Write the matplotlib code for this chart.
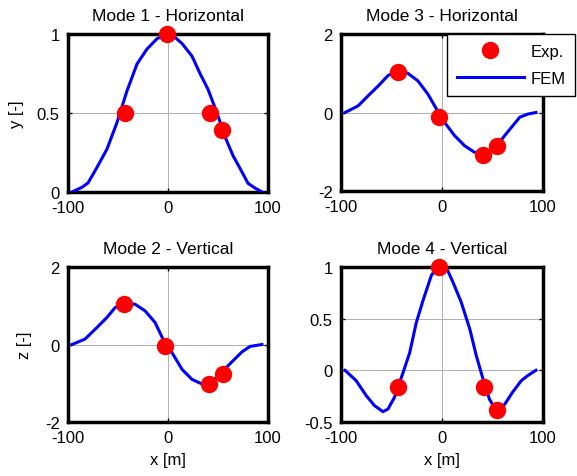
import matplotlib
matplotlib.use("Agg")
import matplotlib.pyplot as plt
from matplotlib.lines import Line2D

plt.rcParams["font.family"] = ["Liberation Sans", "DejaVu Sans"]
plt.rcParams["font.size"] = 12

# measured mode shapes (Exp.) and FEM curves
exp_x1 = [-43, -1, 42, 54]
exp_y1 = [0.5, 1.0, 0.5, 0.39]
fem_x1 = [-96, -86, -80, -71, -61, -51, -41, -31, -21, -11, -1, 5, 14, 24, 32,
          40, 49, 57, 65, 72, 80, 87, 94]
fem_y1 = [0.0, 0.03, 0.057, 0.156, 0.272, 0.44, 0.64, 0.81, 0.905, 0.97, 1.0,
          0.99, 0.94, 0.86, 0.75, 0.65, 0.5, 0.35, 0.23, 0.15, 0.055, 0.025, 0.0]

exp_x3 = [-43.5, -3, 40.5, 54]
exp_y3 = [1.03, -0.12, -1.08, -0.86]
fem_x3 = [-96, -83, -73, -63, -53.5, -43.5, -34, -24, -14, -5.5, 2.5, 12.5, 22.5,
          32, 42, 52, 62, 70, 77, 85, 93]
fem_y3 = [0.0, 0.17, 0.43, 0.68, 0.94, 1.07, 1.0, 0.81, 0.47, 0.09, -0.25, -0.59,
          -0.85, -1.01, -1.06, -0.93, -0.59, -0.34, -0.12, -0.04, 0.0]

exp_x2 = [-44, -3, 41, 54.5]
exp_y2 = [1.04, -0.05, -1.02, -0.75]
fem_x2 = [-96, -83, -71, -61, -53, -43, -33, -23, -13, -5, 4, 14, 24, 34, 41,
          55, 65, 74, 82, 94]
fem_y2 = [0.0, 0.14, 0.44, 0.70, 0.95, 1.08, 1.04, 0.87, 0.57, 0.14, -0.21, -0.64,
          -0.9, -1.02, -1.05, -0.68, -0.42, -0.19, -0.05, 0.0]

exp_x4 = [-43.5, -3, 41.5, 54]
exp_y4 = [-0.165, 1.0, -0.165, -0.385]
fem_x4 = [-96, -85, -75, -67, -58.5, -53.5, -47, -38.5, -32, -25.5, -19, -10.5,
          -4, 4, 11, 19, 27.5, 34, 40.5, 47, 54, 62, 70, 78.5, 85, 93]
fem_y4 = [0.0, -0.10, -0.245, -0.34, -0.40, -0.375, -0.26, -0.02, 0.17, 0.46,
          0.67, 0.92, 1.0, 1.0, 0.85, 0.66, 0.40, 0.14, -0.08, -0.28, -0.395,
          -0.33, -0.21, -0.10, -0.05, 0.0]

x_ticks = [-100, 0, 100]
x_tick_labels = ["-100", "0", "100"]

panels = [
    ("Mode 1 - Horizontal", exp_x1, exp_y1, fem_x1, fem_y1, (0, 1), [0, 0.5, 1], ["0", "0.5", "1"], "y [-]", ""),
    ("Mode 3 - Horizontal", exp_x3, exp_y3, fem_x3, fem_y3, (-2, 2), [-2, 0, 2], ["-2", "0", "2"], "", ""),
    ("Mode 2 - Vertical", exp_x2, exp_y2, fem_x2, fem_y2, (-2, 2), [-2, 0, 2], ["-2", "0", "2"], "z [-]", "x [m]"),
    ("Mode 4 - Vertical", exp_x4, exp_y4, fem_x4, fem_y4, (-0.5, 1), [-0.5, 0, 0.5, 1], ["-0.5", "0", "0.5", "1"], "", "x [m]"),
]

W, H = 577, 477
# axes rectangles in pixels: left, top, right, bottom
boxes = [(68, 35, 268, 193), (341, 35, 543, 192), (68, 268, 268, 423), (341, 268, 543, 423)]

fig = plt.figure(figsize=(W / 100, H / 100), dpi=100)
for (title, ex, ey, fx, fy, ylim, yt, ytl, ylab, xlab), (l, t, r, b) in zip(panels, boxes):
    ax = fig.add_axes([l / W, 1 - b / H, (r - l) / W, (b - t) / H])
    ax.plot(fx, fy, color="#0000ff", lw=2.2, zorder=3)
    ax.plot(ex, ey, "o", color="#ff0000", ms=11.5, mec="#ff0000", zorder=4, clip_on=False)
    ax.set_xlim(-100, 100)
    ax.set_ylim(*ylim)
    ax.set_xticks(x_ticks)
    ax.set_xticklabels(x_tick_labels)
    ax.set_yticks(yt)
    ax.set_yticklabels(ytl)
    ax.grid(True, color="#b0b0b0", lw=0.7)
    ax.tick_params(direction="in", top=True, right=True, length=3, width=1, labelsize=12)
    ax.tick_params(axis="x", pad=6)
    ax.tick_params(axis="y", pad=6)
    for s in ax.spines.values():
        s.set_linewidth(2.5)
    ax.set_title(title, fontsize=12.5, pad=10)
    if ylab:
        ax.set_ylabel(ylab, fontsize=12, labelpad=9)
    if xlab:
        ax.set_xlabel(xlab, fontsize=12, labelpad=5)

handles = [Line2D([], [], ls="none", marker="o", color="#ff0000", ms=11.5),
           Line2D([], [], color="#0000ff", lw=2.2)]
leg = fig.legend(handles, ["Exp.", "FEM"], loc="upper left",
                 bbox_to_anchor=(447 / W, 1 - 35 / H), borderaxespad=0, fancybox=False,
                 framealpha=1, edgecolor="black", fontsize=12, handlelength=4.0,
                 borderpad=0.6, labelspacing=0.7, handletextpad=0.4)
leg.get_frame().set_linewidth(1.0)

fig.savefig("out.png", dpi=100)
